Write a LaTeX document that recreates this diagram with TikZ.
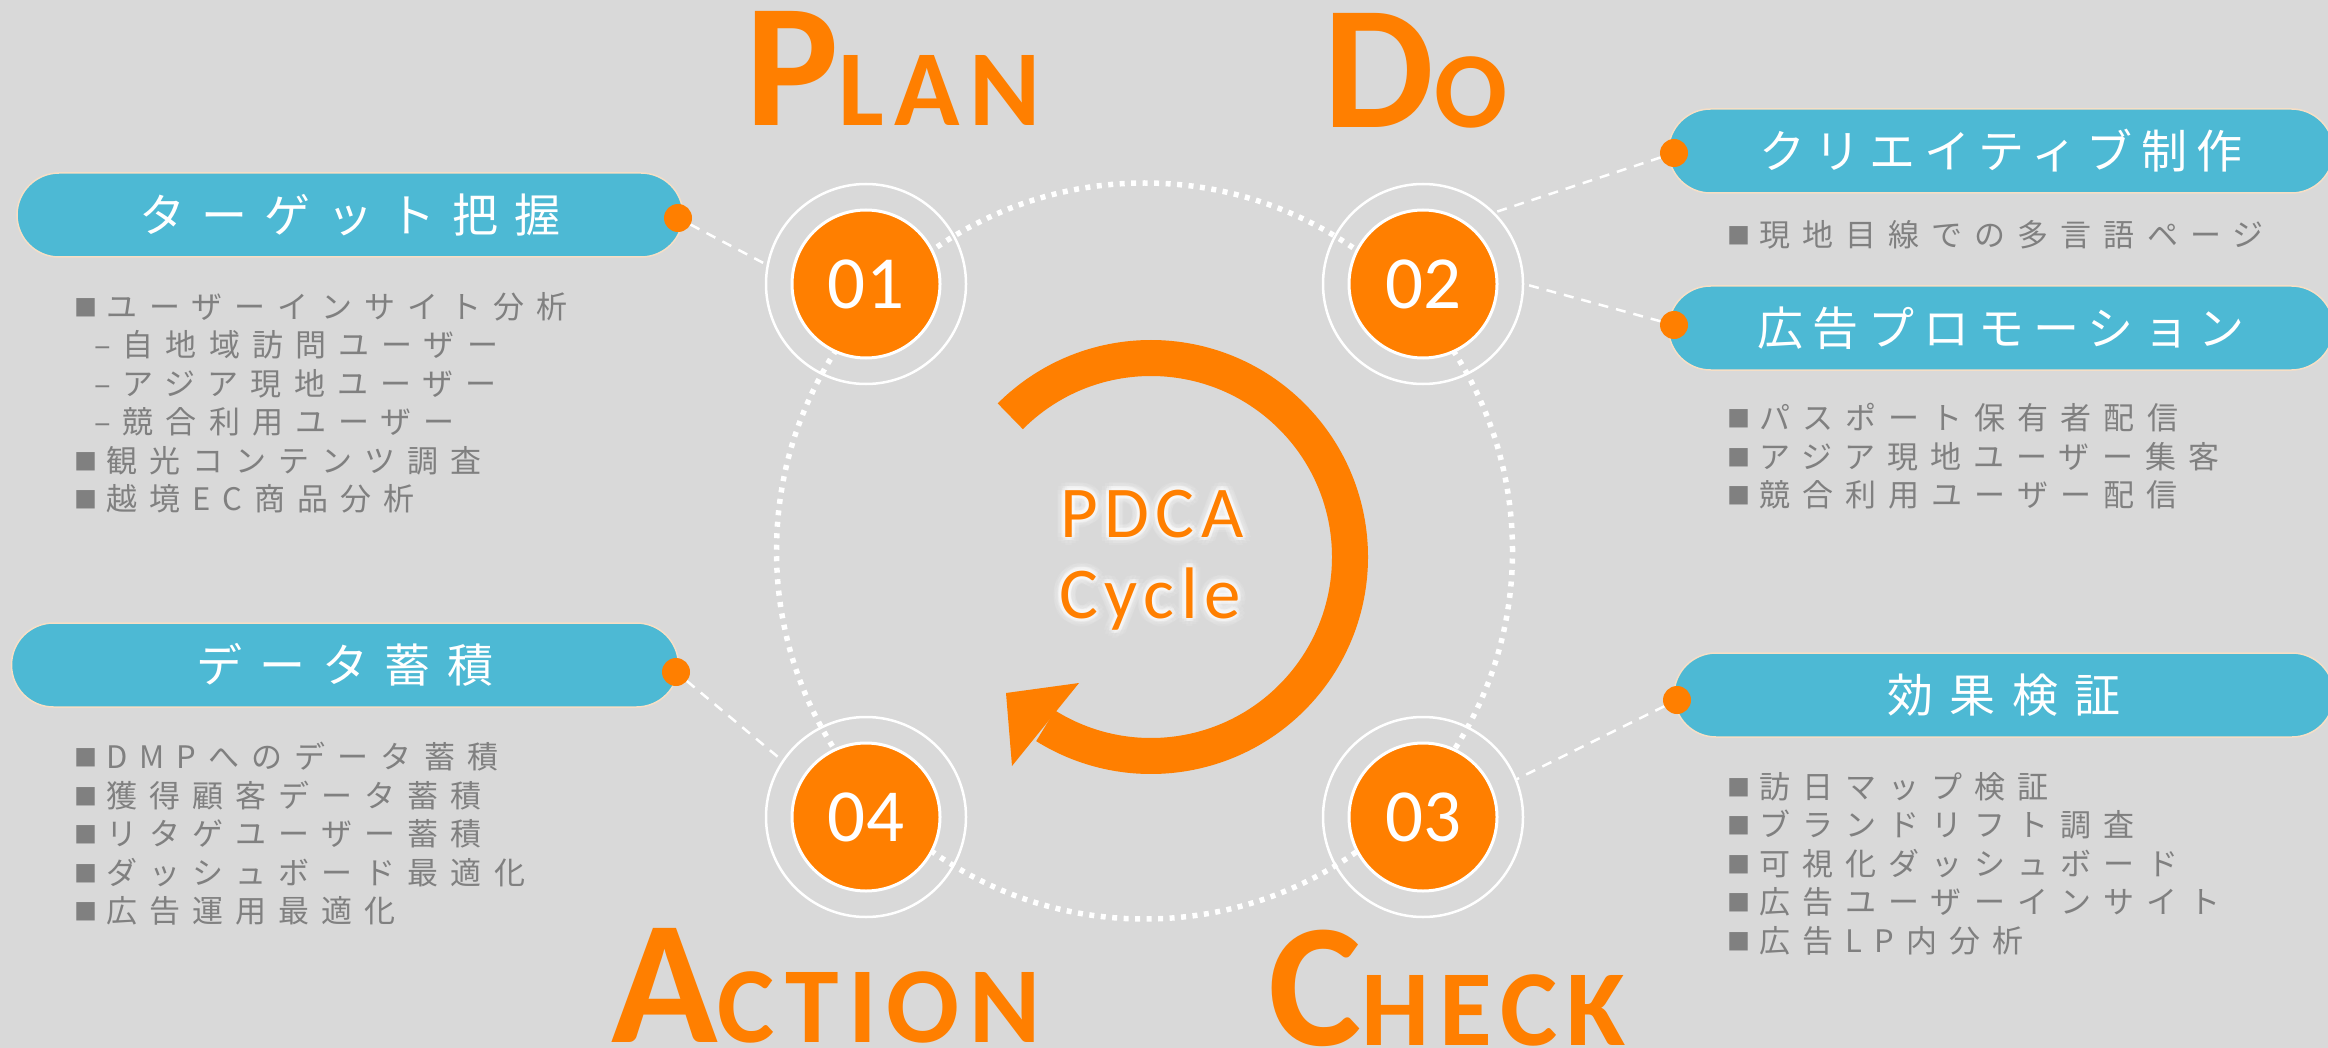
\documentclass[tikz,border=0pt]{standalone}
\usepackage{fontspec}
\setmainfont{Carlito}
\newfontfamily\pillFont[LetterSpace=36]{Noto Sans CJK JP}
\newfontfamily\pillFontTight[LetterSpace=20]{Noto Sans CJK JP}
\newfontfamily\listFont[LetterSpace=39]{Noto Sans CJK JP}
\newfontfamily\phaseFont[LetterSpace=9]{Carlito}
\newfontfamily\cycleFont[LetterSpace=9]{Carlito}

\definecolor{paperGray}{HTML}{D9D9D9}
\definecolor{cycleOrange}{HTML}{FF7F00}
\definecolor{pillBlue}{HTML}{4DB9D4}
\definecolor{pillEdge}{HTML}{F6DFC6}
\definecolor{listGray}{HTML}{808080}

\newcommand{\listMark}{\raisebox{2pt}{\fontsize{23}{38.5}\selectfont ■}\hspace{9pt}}

\begin{document}
\begin{tikzpicture}
    [x = 1pt, y = -1pt,
     orbitNode/.style = {circle, draw = white, line width = 5.5pt,
                         dash pattern = on 5pt off 6.5pt,
                         minimum size = 736pt, inner sep = 0pt},
     ringNode/.style = {circle, draw = white, line width = 2.5pt,
                        minimum size = 200pt, inner sep = 0pt},
     stepNode/.style = {circle, fill = cycleOrange, draw = white,
                        line width = 3pt, minimum size = 148pt,
                        inner sep = 0pt, text = white,
                        font = \fontsize{75}{75}\selectfont},
     pillNode/.style = {rectangle, rounded corners = 42pt,
                        minimum height = 84pt, fill = pillBlue,
                        draw = pillEdge, line width = 1.5pt,
                        text = white, inner sep = 0pt,
                        font = \pillFont\fontsize{46}{46}\selectfont},
     tightPill/.style = {pillNode,
                         font = \pillFontTight\fontsize{46}{46}\selectfont},
     dotNode/.style = {circle, fill = cycleOrange, minimum size = 28pt,
                       inner sep = 0pt},
     listNode/.style = {anchor = north west, inner sep = 0pt,
                        align = left, text = listGray,
                        font = \listFont\fontsize{31}{38.5}\selectfont},
     phaseNode/.style = {anchor = base west, inner sep = 0pt,
                         text = cycleOrange,
                         font = \phaseFont\bfseries\fontsize{176}{176}\selectfont},
     cycleNode/.style = {anchor = base, inner sep = 0pt,
                         text = cycleOrange,
                         font = \cycleFont\fontsize{73}{73}\selectfont},
     glowNode/.style = {cycleNode, text = white, opacity = 0.25},
     haloNode/.style = {cycleNode, text = white, opacity = 0.1},
     link/.style = {draw = white, line width = 2.5pt,
                    dash pattern = on 10pt off 8pt}]

    \useasboundingbox (0,0) rectangle (2328,1048);
    \fill [paperGray] (0,0) rectangle (2328,1048);

    \node at (1144.5,551) [orbitNode] (orbit) {};

    \node at (866, 284)  [ringNode] (ring1) {};
    \node at (1423,284)  [ringNode] (ring2) {};
    \node at (1423,817)  [ringNode] (ring3) {};
    \node at (866, 817)  [ringNode] (ring4) {};

    \node at (866, 284)  [stepNode] (step1) {01};
    \node at (1423,284)  [stepNode] (step2) {02};
    \node at (1423,817)  [stepNode] (step3) {03};
    \node at (866, 817)  [stepNode] (step4) {04};

    \draw [cycleOrange, line width = 36pt] (1151,557) ++(135:199pt)
      arc [start angle = 135, end angle = -122, radius = 199pt];
    \fill [cycleOrange] (1006,693) -- (1079,683) -- (1012,766) -- cycle;

    \foreach \a in {0,30,...,330} {
      \node at (1152,537) [haloNode, shift = {(\a:8pt)}] {PDCA};
      \node at (1150,618) [haloNode, shift = {(\a:8pt)}] {Cycle};
      \node at (1152,537) [glowNode, shift = {(\a:3.5pt)}] {PDCA};
      \node at (1150,618) [glowNode, shift = {(\a:3.5pt)}] {Cycle};
    }
    \node at (1152,537) [cycleNode] (pdca)  {PDCA};
    \node at (1150,618) [cycleNode] (cycle) {Cycle};

    \node at (745, 126)  [phaseNode] (plan)   {P{\fontsize{108}{108}\selectfont LAN}};
    \node at (1323,128)  [phaseNode] (do)     {D{\fontsize{108}{108}\selectfont O}};
    \node at (611, 1042) [phaseNode] (action) {A{\fontsize{108}{108}\selectfont CTION}};
    \node at (1268,1045) [phaseNode] (check)  {C{\fontsize{108}{108}\selectfont HECK}};

    \node at (350, 215) [pillNode,  minimum width = 666pt] (target)   {ターゲット把握};
    \node at (345, 665) [pillNode,  minimum width = 667pt] (data)     {データ蓄積};
    \node at (2001,151) [tightPill, minimum width = 665pt] (creative) {クリエイティブ制作};
    \node at (2001,328) [tightPill, minimum width = 665pt] (promo)    {広告プロモーション};
    \node at (2004,695) [pillNode,  minimum width = 660pt] (verify)   {効果検証};

    \node at (74, 292)  [listNode] (targetList)
      {\listMark ユーザーインサイト分析\\
       \hspace{20pt}–自地域訪問ユーザー\\
       \hspace{20pt}–アジア現地ユーザー\\
       \hspace{20pt}–競合利用ユーザー\\
       \listMark 観光コンテンツ調査\\
       \listMark 越境EC商品分析};
    \node at (74, 742)  [listNode] (dataList)
      {\listMark DMPへのデータ蓄積\\
       \listMark 獲得顧客データ蓄積\\
       \listMark リタゲユーザー蓄積\\
       \listMark ダッシュボード最適化\\
       \listMark 広告運用最適化};
    \node at (1727,220) [listNode] (creativeList)
      {\listMark 現地目線での多言語ページ};
    \node at (1727,403) [listNode] (promoList)
      {\listMark パスポート保有者配信\\
       \listMark アジア現地ユーザー集客\\
       \listMark 競合利用ユーザー配信};
    \node at (1727,772) [listNode] (verifyList)
      {\listMark 訪日マップ検証\\
       \listMark ブランドリフト調査\\
       \listMark 可視化ダッシュボード\\
       \listMark 広告ユーザーインサイト\\
       \listMark 広告LP内分析};

    \node at (678, 218)  [dotNode] (targetDot)   {};
    \node at (676, 672)  [dotNode] (dataDot)     {};
    \node at (1674,153)  [dotNode] (creativeDot) {};
    \node at (1674,325)  [dotNode] (promoDot)    {};
    \node at (1677,700)  [dotNode] (verifyDot)   {};

    \path
      (targetDot)   edge [link] (ring1.169)
      (creativeDot) edge [link] (ring2.45)
      (promoDot)    edge [link] (ring2.0)
      (verifyDot)   edge [link] (ring3.22)
      (dataDot)     edge [link] (ring4.146);
\end{tikzpicture}
\end{document}
